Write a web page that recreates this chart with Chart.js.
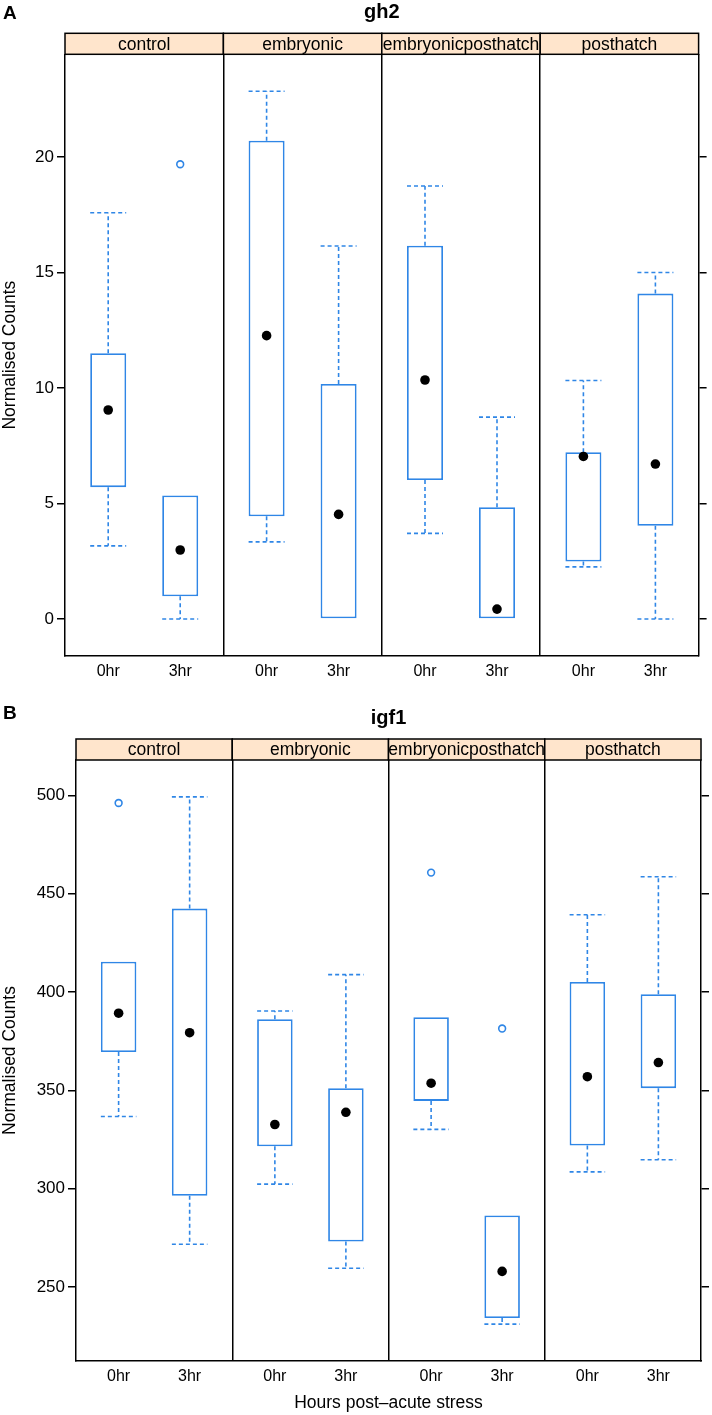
<!DOCTYPE html>
<html>
<head>
<meta charset="utf-8">
<script src="https://cdn.jsdelivr.net/npm/chart.js@4.4.1/dist/chart.umd.min.js"></script>
<style>
  body { margin: 0; background: #fff; }
  #wrap { position: relative; width: 712px; height: 1415px; overflow: hidden; }
  canvas { position: absolute; left: 0; }
  .tag { position: absolute; left: 3px; font: bold 19px 'Liberation Sans', Arial, sans-serif; line-height: 19px; }
</style>
</head>
<body>
<div id="wrap">
  <canvas id="gh2_chart" width="712" height="690" style="top:0"></canvas>
  <canvas id="igf1_chart" width="712" height="725" style="top:690px"></canvas>
  <div class="tag" style="top:3px">A</div>
  <div class="tag" style="top:703px">B</div>
</div>
<script>
const groups = ["control", "embryonic", "embryonicposthatch", "posthatch"];
const times = ["0hr", "3hr"];

// order of every array: control 0hr, control 3hr, embryonic 0hr, embryonic 3hr, ...
const gh2Low = [3.17, 0, 3.34, 0, 3.71, 0, 2.26, 0];
const gh2Q1 = [5.71, 0.99, 4.45, 0, 6.02, 0, 2.49, 4.04];
const gh2Median = [9.05, 2.99, 12.27, 4.53, 10.35, 0.43, 7.04, 6.71];
const gh2Q3 = [11.51, 5.35, 20.71, 10.18, 16.16, 4.84, 7.22, 14.09];
const gh2High = [17.59, 5.35, 22.85, 16.15, 18.75, 8.74, 10.33, 15.0];
const gh2Outliers = [[], [19.69], [], [], [], [], [], []];
const gh2Ticks = [0, 5, 10, 15, 20];

const igf1Low = [336.7, 271.7, 302.3, 259.5, 330.1, 231.1, 308.5, 314.7];
const igf1Q1 = [369.5, 296.4, 321.5, 273.1, 344.6, 234.2, 321.9, 351.1];
const igf1Median = [389.2, 379.3, 332.6, 338.8, 353.6, 257.9, 356.9, 364.1];
const igf1Q3 = [415.4, 442.4, 386.1, 351.1, 387.2, 286.3, 405.1, 398.9];
const igf1High = [415.4, 499.2, 390.3, 408.8, 387.2, 286.3, 439.3, 458.6];
const igf1Outliers = [[496.1], [], [], [], [460.7], [381.4], [], []];
const igf1Ticks = [250, 300, 350, 400, 450, 500];

Chart.defaults.font.family = "'Liberation Sans', Arial, sans-serif";
Chart.defaults.color = "#000";

const boxColor = "#2f86e6";
const panelWidth = 2.2; // lattice factor limits 0.4 .. 2.6
const halfBox = 0.25;

function xPositions() {
    let pos = [];
    groups.forEach(function (g, gi) {
        times.forEach(function (t, ti) {
            pos.push(gi * panelWidth + 0.6 + ti);
        });
    });
    return pos;
}

const stripPlugin = {
    id: "strips",
    afterDraw(chart) {
        const ctx = chart.ctx;
        const area = chart.chartArea;
        const xs = chart.scales.x;
        const h = 21;
        ctx.save();
        groups.forEach(function (g, gi) {
            let left = xs.getPixelForValue(gi * panelWidth);
            let right = xs.getPixelForValue((gi + 1) * panelWidth);
            let top = area.top - h;
            ctx.fillStyle = "#ffe5cc";
            ctx.fillRect(left, top, right - left, h);
            ctx.strokeStyle = "#000";
            ctx.lineWidth = 1.5;
            ctx.strokeRect(left, top, right - left, h);
            ctx.fillStyle = "#000";
            ctx.font = "17.5px 'Liberation Sans', Arial, sans-serif";
            ctx.textAlign = "center";
            ctx.textBaseline = "middle";
            ctx.fillText(g, (left + right) / 2, top + 11.5);
        });
        ctx.restore();
    }
};

function drawPanel(id, title, low, q1, med, q3, high, outliers, ticks, lay) {
    let pos = xPositions();
    let boxes = [], whiskers = [], caps = [], medians = [], outs = [];
    for (let i = 0; i < pos.length; i++) {
        let x = pos[i];
        boxes.push({x: x, y: [q1[i], q3[i]]});
        whiskers.push({x: x, y: q3[i]}, {x: x, y: high[i]}, {x: x, y: null},
                      {x: x, y: q1[i]}, {x: x, y: low[i]}, {x: x, y: null});
        // a cap that sits on the box edge is hidden by it in the original
        if (high[i] > q3[i]) {
            caps.push({x: x - halfBox, y: high[i]}, {x: x + halfBox, y: high[i]}, {x: x, y: null});
        }
        if (low[i] < q1[i]) {
            caps.push({x: x - halfBox, y: low[i]}, {x: x + halfBox, y: low[i]}, {x: x, y: null});
        }
        medians.push({x: x, y: med[i]});
        outliers[i].forEach(function (v) { outs.push({x: x, y: v}); });
    }

    let all = low.concat(high, outliers.flat());
    let lo = Math.min(...all), hi = Math.max(...all);
    let pad = 0.07 * (hi - lo);
    let separators = groups.slice(1).map(function (g, gi) { return (gi + 1) * panelWidth; });
    let xMax = groups.length * panelWidth;

    new Chart(id, {
        type: "bar",
        data: {
            datasets: [
                {
                    type: "bar", data: boxes, backgroundColor: "#fff", borderColor: boxColor,
                    borderWidth: 1.8, borderSkipped: false, categoryPercentage: 1, barPercentage: 0.5, order: 2
                },
                {
                    type: "line", data: whiskers, borderColor: boxColor, borderWidth: 1.6,
                    borderDash: [4, 3], pointRadius: 0, spanGaps: false, order: 3
                },
                {
                    type: "line", data: caps, borderColor: boxColor, borderWidth: 1.6,
                    borderDash: [4, 3], pointRadius: 0, spanGaps: false, order: 3
                },
                {
                    type: "line", data: outs, showLine: false, pointRadius: 3.4, pointBorderWidth: 1.6,
                    pointBorderColor: boxColor, pointBackgroundColor: "rgba(0,0,0,0)", order: 1
                },
                {
                    type: "line", data: medians, showLine: false, pointRadius: 4.8, pointBorderWidth: 0,
                    pointBackgroundColor: "#000", order: 0
                }
            ]
        },
        options: {
            responsive: false,
            animation: false,
            devicePixelRatio: 1,
            events: [],
            layout: {padding: 0},
            plugins: {
                legend: {display: false},
                tooltip: {enabled: false},
                title: {
                    display: true, text: title, fullSize: false,
                    font: {size: 20, weight: "bold", lineHeight: 0.9},
                    padding: {top: lay.titleTop, bottom: lay.titleBottom}
                }
            },
            scales: {
                x: {
                    type: "linear", position: "bottom", min: 0, max: xMax, offset: false,
                    afterBuildTicks: function (s) { s.ticks = pos.map(function (v) { return {value: v}; }); },
                    afterFit: function (s) { s.height = lay.bottom; },
                    ticks: {
                        font: {size: 16}, padding: 6, autoSkip: false, maxRotation: 0,
                        callback: function (v, i) { return times[i % times.length]; }
                    },
                    grid: {display: false, drawTicks: false, tickLength: 0, offset: false},
                    border: {display: true, color: "#000", width: 1.5},
                    title: {
                        display: !!lay.xTitle, text: lay.xTitle || "", font: {size: 17.5},
                        padding: {top: 0, bottom: 1.3}
                    }
                },
                x2: {
                    type: "linear", position: "top", min: 0, max: xMax, offset: false,
                    afterBuildTicks: function (s) { s.ticks = separators.map(function (v) { return {value: v}; }); },
                    ticks: {display: false},
                    grid: {drawTicks: false, tickLength: 0, color: "#000", lineWidth: 1.5, offset: false},
                    border: {display: false}
                },
                y: {
                    position: "left", min: lo - pad, max: hi + pad,
                    afterBuildTicks: function (s) { s.ticks = ticks.map(function (v) { return {value: v}; }); },
                    afterFit: function (s) { s.width = lay.left; },
                    ticks: {font: {size: 17}, padding: 3},
                    grid: {drawOnChartArea: false, drawTicks: true, tickLength: 8, color: "#000", lineWidth: 1.5},
                    border: {display: true, color: "#000", width: 1.5},
                    title: {display: true, text: "Normalised Counts", font: {size: 17.5}, padding: 0}
                },
                y2: {
                    position: "right", min: lo - pad, max: hi + pad,
                    afterBuildTicks: function (s) { s.ticks = ticks.map(function (v) { return {value: v}; }); },
                    afterFit: function (s) { s.width = 712 - lay.right; },
                    ticks: {display: false},
                    grid: {drawOnChartArea: false, drawTicks: true, tickLength: 8, color: "#000", lineWidth: 1.5},
                    border: {display: true, color: "#000", width: 1.5}
                }
            }
        },
        plugins: [stripPlugin]
    });
}

drawPanel("gh2_chart", "gh2", gh2Low, gh2Q1, gh2Median, gh2Q3, gh2High, gh2Outliers, gh2Ticks,
    {titleTop: 3.5, titleBottom: 32.8, left: 65, right: 698.6, bottom: 34});
drawPanel("igf1_chart", "igf1", igf1Low, igf1Q1, igf1Median, igf1Q3, igf1High, igf1Outliers, igf1Ticks,
    {titleTop: 19.5, titleBottom: 32.5, left: 76, right: 701, bottom: 54, xTitle: "Hours post\u2013acute stress"});
</script>
</body>
</html>
